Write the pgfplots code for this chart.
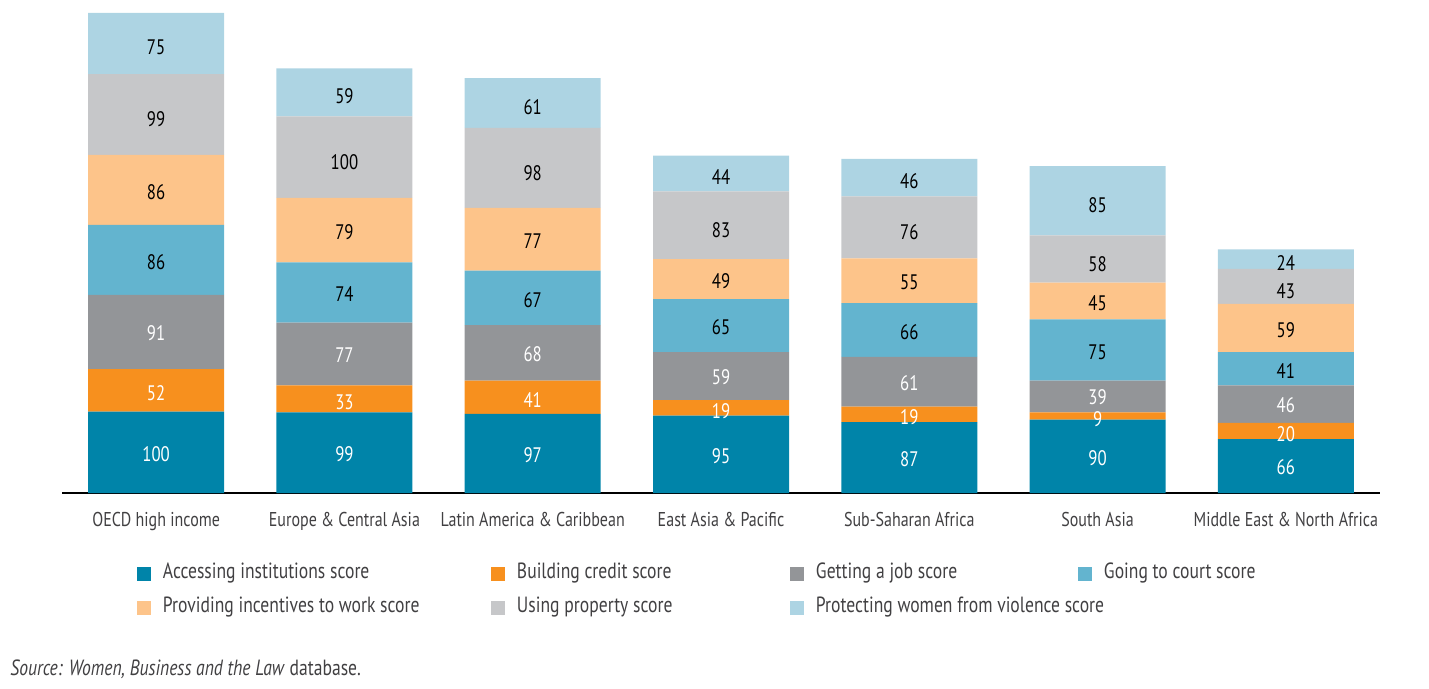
\documentclass[border=0pt]{standalone}
\usepackage{fontspec}
\setmainfont{PT Sans}[FakeStretch=0.8]
\usepackage{pgfplots}
\usepackage{pgfplotstable}
\pgfplotsset{compat=1.18}

\definecolor{acc}{HTML}{0084A9}
\definecolor{cred}{HTML}{F7901E}
\definecolor{job}{HTML}{939598}
\definecolor{court}{HTML}{63B4CF}
\definecolor{inc}{HTML}{FDC48A}
\definecolor{prop}{HTML}{C6C7C9}
\definecolor{viol}{HTML}{ADD4E3}
\definecolor{txt}{HTML}{414042}

% scores by region, bottom segment first
\pgfplotstableread{
x acc cred job court inc prop viol
0 100 52 91 86 86 99 75
1 99 33 77 74 79 100 59
2 97 41 68 67 77 98 61
3 95 19 59 65 49 83 44
4 87 19 61 66 55 76 46
5 90 9 39 75 45 58 85
6 66 20 46 41 59 43 24
}\scores

\begin{document}
\begin{tikzpicture}
\begin{axis}[
    at={(31pt,-246.5pt)}, anchor=south west,
    scale only axis, width=659pt, height=244.5pt,
    ybar stacked, bar width=68pt,
    xmin=-0.5, xmax=6.5, ymin=0, ymax=600,
    axis x line*=bottom, axis y line=none,
    axis line style={black, line width=0.6pt},
    major tick length=0pt,
    xtick={0,...,6},
    xticklabels={OECD high income, Europe \& Central Asia, Latin America \& Caribbean,
        East Asia \& Pacific, Sub-Saharan Africa, South Asia, Middle East \& North Africa},
    xticklabel style={anchor=base, yshift=-16.5pt, font=\fontsize{10}{12}\selectfont, text=txt},
    nodes near coords,
    every node near coord/.append style={font=\fontsize{10.5}{12}\selectfont},
    /pgf/number format/assume math mode=true,
    legend columns=4,
    legend cell align=left,
    legend style={at={(0.0569,-0.147)}, anchor=north west, draw=none, fill=none,
        inner sep=0pt, outer sep=0pt, row sep=8pt, column sep=0pt,
        font=\fontsize{11}{12}\selectfont, text=txt,
        nodes={inner sep=0pt, text height=7pt, text depth=2pt, anchor=west}},
    legend image code/.code={\fill[#1,draw=none] (0pt,-3.5pt) rectangle (7pt,3.5pt); \path (13pt,0pt);},
]
\addplot[fill=acc, draw=none, every node near coord/.append style={text=white, yshift=-0.75pt}] table[x=x, y=acc] {\scores};
\addlegendentry{\makebox[164pt][l]{Accessing institutions score}}
\addplot[fill=cred, draw=none, every node near coord/.append style={text=white, yshift=-1.5pt}] table[x=x, y=cred] {\scores};
\addlegendentry{\makebox[136.5pt][l]{Building credit score}}
\addplot[fill=job, draw=none, every node near coord/.append style={text=white, yshift=-0.5pt}] table[x=x, y=job] {\scores};
\addlegendentry{\makebox[131pt][l]{Getting a job score}}
\addplot[fill=court, draw=none, every node near coord/.append style={text=black, yshift=-1pt}] table[x=x, y=court] {\scores};
\addlegendentry{Going to court score}
\addplot[fill=inc, draw=none, every node near coord/.append style={text=black, yshift=-1pt}] table[x=x, y=inc] {\scores};
\addlegendentry{\makebox[164pt][l]{Providing incentives to work score}}
\addplot[fill=prop, draw=none, every node near coord/.append style={text=black, yshift=-2.5pt}] table[x=x, y=prop] {\scores};
\addlegendentry{\makebox[136.5pt][l]{Using property score}}
\addplot[fill=viol, draw=none, every node near coord/.append style={text=black, yshift=-2pt}] table[x=x, y=viol] {\scores};
\addlegendentry{\makebox[131pt][l]{Protecting women from violence score}}
\end{axis}
\node[anchor=base west, inner sep=0pt, font=\fontsize{11}{12}\selectfont, text=txt]
    at (5pt,-337.5pt) {\textit{Source: Women, Business and the Law} database.};
\pgfresetboundingbox
\useasboundingbox (0pt,0pt) rectangle (714.5pt,-344.5pt);
\end{tikzpicture}
\end{document}
